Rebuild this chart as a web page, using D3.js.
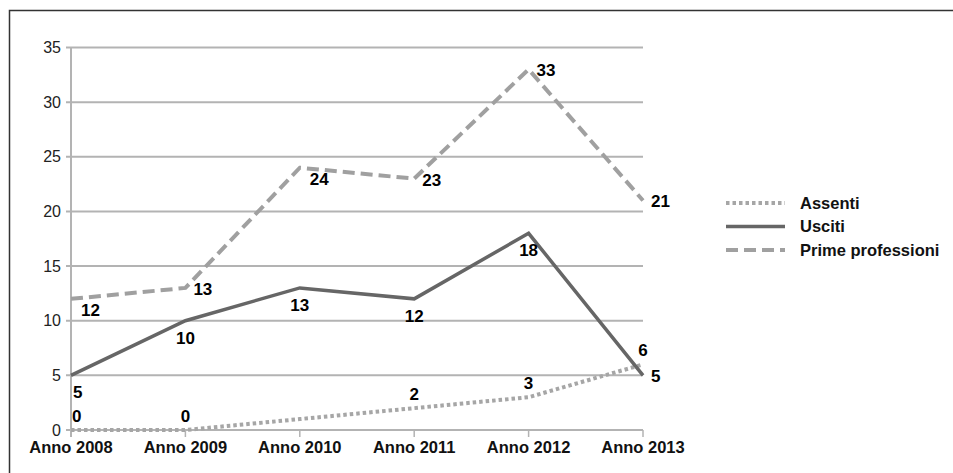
<!DOCTYPE html>
<html><head><meta charset="utf-8">
<script src="https://cdn.jsdelivr.net/npm/d3@7/dist/d3.min.js"></script>
<style>body{margin:0;background:#fff}svg{display:block}text{font-family:"Liberation Sans",Arial,sans-serif}</style>
</head><body>
<svg id="c" width="953" height="473"></svg>
<script>
const categories = ["Anno 2008","Anno 2009","Anno 2010","Anno 2011","Anno 2012","Anno 2013"];
const seriesNames = ["Assenti","Usciti","Prime professioni"];
const assenti = [0,0,1,2,3,6];
const usciti = [5,10,13,12,18,5];
const prime = [12,13,24,23,33,21];
const assentiLabelShown = [true,true,false,true,true,true];
const yTicks = [0,5,10,15,20,25,30,35];

// label placement (style, not data)
const placement = {
  "Assenti": ["above","above","above","above","above","above"],
  "Usciti": ["below","below","below","below","below","right"],
  "Prime professioni": ["belowright","right","belowright","right","right","right"]
};

const svg = d3.select("#c");
svg.append("path").attr("d","M9.5,473 V10.5 H953").attr("fill","none").attr("stroke","#333").attr("stroke-width",1.5);

const x = d3.scalePoint().domain(categories).range([71,643]);
const y = d3.scaleLinear().domain([0,35]).range([430,47.5]);

// gridlines
svg.append("g").selectAll("line").data(yTicks).join("line")
  .attr("x1",66).attr("x2",643).attr("y1",d=>y(d)).attr("y2",d=>y(d))
  .attr("stroke","#b3b3b3").attr("stroke-width",2);
// y axis line
svg.append("line").attr("x1",71).attr("x2",71).attr("y1",y(35)).attr("y2",437).attr("stroke","#b3b3b3").attr("stroke-width",2);
// x tick marks
svg.append("g").selectAll("line").data(categories).join("line")
  .attr("x1",d=>x(d)).attr("x2",d=>x(d)).attr("y1",430).attr("y2",437)
  .attr("stroke","#b3b3b3").attr("stroke-width",1.5);
// y labels
svg.append("g").selectAll("text").data(yTicks).join("text")
  .attr("x",61).attr("y",d=>y(d)).attr("dy","0.35em").attr("text-anchor","end")
  .attr("font-size",16).attr("fill","#222").text(d=>d);
// x labels
svg.append("g").selectAll("text").data(categories).join("text")
  .attr("x",d=>x(d)).attr("y",453).attr("text-anchor","middle")
  .attr("font-size",16.5).attr("font-weight","bold").attr("fill","#111").text(d=>d);

const styles = {
  "Assenti": {color:"#a6a6a6", dash:"3.5,3", width:4},
  "Usciti": {color:"#666666", dash:null, width:3.5},
  "Prime professioni": {color:"#a0a0a0", dash:"12,6", width:4}
};
const seriesData = {"Assenti":assenti,"Usciti":usciti,"Prime professioni":prime};
const line = d3.line().x((d,i)=>x(categories[i])).y(d=>y(d));

seriesNames.forEach(n=>{
  const s = styles[n];
  svg.append("path").datum(seriesData[n]).attr("d",line).attr("fill","none")
    .attr("stroke",s.color).attr("stroke-width",s.width)
    .attr("stroke-dasharray",s.dash).attr("stroke-linejoin","miter");
});

const off = {above:[0,-14,"start"], below:[0,17,"middle"], right:[8,1,"start"], belowright:[10,11,"start"]};
seriesNames.forEach(n=>{
  const vals = seriesData[n];
  const g = svg.append("g");
  vals.forEach((v,i)=>{
    if(n==="Assenti" && !assentiLabelShown[i]) return;
    const p = placement[n][i];
    let [dx,dy,anchor] = off[p];
    if(n==="Assenti"){ anchor = i===0 ? "start" : "middle"; dx = i===0 ? 1 : 0; }
    if(n==="Usciti" && i===0){ anchor="start"; dx=2; }
    g.append("text").attr("x",x(categories[i])+dx).attr("y",y(v)+dy).attr("dy","0.35em")
      .attr("text-anchor",anchor).attr("font-size",17).attr("font-weight","bold").attr("fill","#000").text(v);
  });
});

// legend
const lg = svg.append("g");
seriesNames.forEach((n,i)=>{
  const s = styles[n];
  const yy = 203 + i*23.5;
  lg.append("line").attr("x1",726).attr("x2",785).attr("y1",yy).attr("y2",yy)
    .attr("stroke",s.color).attr("stroke-width",s.width).attr("stroke-dasharray",s.dash);
  lg.append("text").attr("x",800).attr("y",yy).attr("dy","0.35em").attr("font-size",16.5)
    .attr("font-weight","bold").attr("fill","#111").text(n);
});
</script>
</body></html>
